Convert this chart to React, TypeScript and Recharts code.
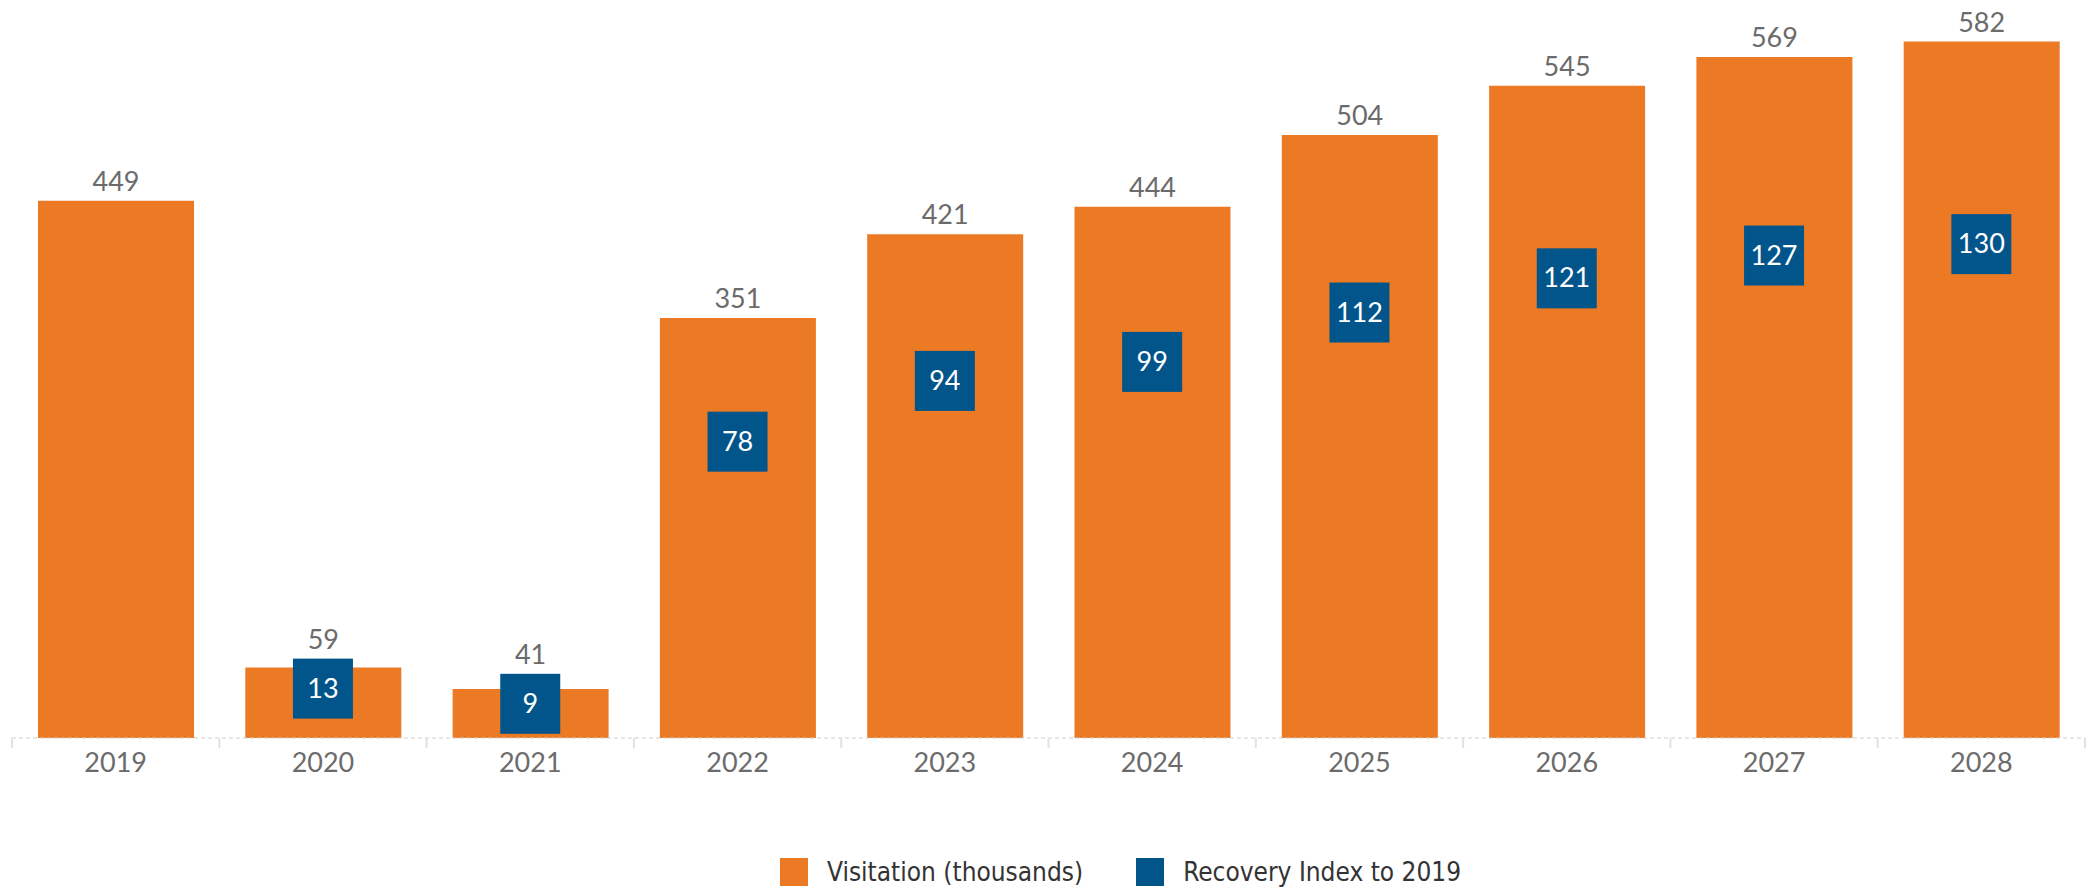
import React from "react";
import {
  ComposedChart,
  Bar,
  Line,
  XAxis,
  YAxis,
  LabelList,
} from "recharts";

const YEARS = ["2019", "2020", "2021", "2022", "2023", "2024", "2025", "2026", "2027", "2028"];
const VISITATION = [449, 59, 41, 351, 421, 444, 504, 545, 569, 582];
const RECOVERY = [null, 13, 9, 78, 94, 99, 112, 121, 127, 130];

const LEFT_MAX = 600;
const RIGHT_MAX = 189;

const ORANGE = "#EC7A24";
const BLUE = "#02558B";
const FONT = "Lato, 'Open Sans', sans-serif";
const LEGEND_FONT = "'Liberation Sans Narrow', 'DejaVu Sans Condensed', 'Roboto', sans-serif";

const data = YEARS.map((year, i) => ({
  year,
  visitation: VISITATION[i],
  recovery: RECOVERY[i],
}));

// year label plus small separators at the band edges
function YearTick(props: any) {
  const { x, y, payload, index, visibleTicksCount } = props;
  const half = payload.offset || 0;
  const isLast = index === visibleTicksCount - 1;
  return (
    <g>
      <line x1={x - half} x2={x - half} y1={y} y2={y + 10} stroke="#e2e2e2" strokeWidth={2} />
      {isLast && (
        <line x1={x + half} x2={x + half} y1={y} y2={y + 10} stroke="#e2e2e2" strokeWidth={2} />
      )}
      <text x={x} y={y} dy={34} textAnchor="middle" fill="#6b6b6b" fontSize={27} fontFamily={FONT}>
        {payload.value}
      </text>
    </g>
  );
}

// value above the bar, pushed up when the index box pokes out above it
function TopLabel(props: any) {
  const { x, y, width, height, value, index } = props;
  let top = y;
  const rec = RECOVERY[index];
  if (rec != null && value) {
    const pxPerUnit = height / value;
    const base = y + height;
    const boxTop = base - rec * pxPerUnit * (LEFT_MAX / RIGHT_MAX) - 30;
    top = Math.min(top, boxTop);
  }
  return (
    <text x={x + width / 2} y={top - 10} textAnchor="middle" fill="#6b6b6b" fontSize={27} fontFamily={FONT}>
      {value}
    </text>
  );
}

function IndexBox(props: any) {
  const { cx, cy, value, index } = props;
  if (value == null || cx == null || cy == null) return <g key={`box-${index}`} />;
  return (
    <g key={`box-${index}`}>
      <rect x={cx - 30} y={cy - 30} width={60} height={60} fill={BLUE} />
      <text x={cx} y={cy} dy={9} textAnchor="middle" fill="#ffffff" fontSize={27} fontFamily={FONT}>
        {value}
      </text>
    </g>
  );
}

function LegendItem({ color, label }: { color: string; label: string }) {
  return (
    <div style={{ display: "flex", alignItems: "center", marginRight: 53 }}>
      <div style={{ width: 28, height: 28, background: color, marginRight: 19 }} />
      <span style={{ fontFamily: LEGEND_FONT, fontSize: 26, color: "#333", lineHeight: "28px" }}>{label}</span>
    </div>
  );
}

export default function App() {
  return (
    <div style={{ position: "absolute", left: 0, top: 0, width: 2086, height: 887, background: "#fff" }}>
      <ComposedChart
        width={2086}
        height={887}
        data={data}
        margin={{ top: 20, right: 1, left: 12, bottom: 109 }}
      >
        <XAxis
          dataKey="year"
          height={40}
          tickSize={0}
          tickMargin={0}
          tickLine={false}
          axisLine={{ stroke: "#cfcfcf", strokeDasharray: "4 3" }}
          tick={<YearTick />}
          interval={0}
        />
        <YAxis yAxisId="left" hide domain={[0, LEFT_MAX]} />
        <YAxis yAxisId="right" orientation="right" hide domain={[0, RIGHT_MAX]} />
        <Bar yAxisId="left" dataKey="visitation" fill={ORANGE} barSize={156} isAnimationActive={false}>
          <LabelList dataKey="visitation" content={<TopLabel />} />
        </Bar>
        <Line
          yAxisId="right"
          dataKey="recovery"
          stroke="none"
          dot={<IndexBox />}
          activeDot={false}
          connectNulls={false}
          isAnimationActive={false}
        />
      </ComposedChart>
      <div
        style={{
          position: "absolute",
          top: 858,
          left: 780,
          display: "flex",
          alignItems: "center",
        }}
      >
        <LegendItem color={ORANGE} label="Visitation (thousands)" />
        <LegendItem color={BLUE} label="Recovery Index to 2019" />
      </div>
    </div>
  );
}
